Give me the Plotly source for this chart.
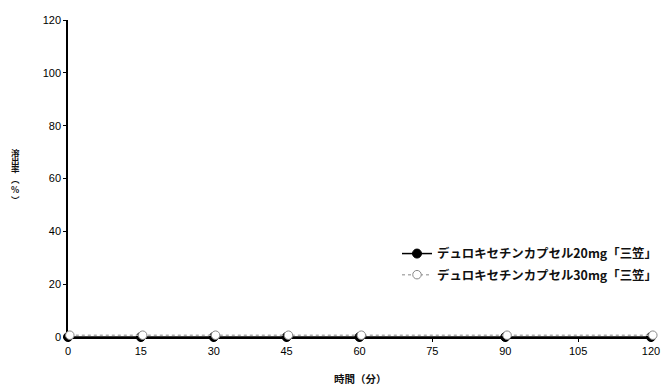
import plotly.graph_objects as go

# Dissolution test results (time in minutes, dissolution rate in %)
times = [0, 15, 30, 45, 60, 90, 120]
rate_20mg = [0, 0, 0, 0, 0, 0, 0]
rate_30mg = [0, 0, 0, 0, 0, 0, 0]
name_20mg = "デュロキセチンカプセル20mg「三笠」"
name_30mg = "デュロキセチンカプセル30mg「三笠」"
x_ticks = [0, 15, 30, 45, 60, 75, 90, 105, 120]
y_ticks = [0, 20, 40, 60, 80, 100, 120]
y_title_chars = ["溶", "出", "率", "︵", "%", "︶"]
y_title_pos = [152, 160, 168, 179, 189, 199]  # px from top, one per character

FONT = "Noto Sans CJK JP"
TICK_FONT = "Liberation Sans"

# Page geometry (px)
W, H = 664, 387
ML, MR, MT, MB = 60, 0, 12, 42
AX_L, AX_R, AX_T, AX_B = 68, 651, 20, 337  # visible axes box
area_w = W - ML - MR
area_h = H - MT - MB
ux = 120 / (AX_R - AX_L)  # data units per pixel
uy = 120 / (AX_B - AX_T)

# open markers drawn a couple of pixels up and to the right of the filled ones
SHIFT = 1.8
x_rng_open = [-(AX_L - ML) * ux - SHIFT * ux, 120 + (W - MR - AX_R) * ux - SHIFT * ux]
y_rng_open = [-(H - MB - AX_B) * uy - SHIFT * uy, 120 + (AX_T - MT) * uy - SHIFT * uy]


def py(px_from_top):
    return (H - MB - px_from_top) / area_h


def px(px_from_left):
    return (px_from_left - ML) / area_w


fig = go.Figure()
fig.add_trace(go.Scatter(
    x=times, y=rate_20mg, name=name_20mg, mode="lines+markers", legendgroup="a",
    line=dict(color="black", width=1.5),
    marker=dict(symbol="circle", size=9, color="black", line=dict(color="black", width=1)),
    cliponaxis=False,
))
fig.add_trace(go.Scatter(
    x=times, y=rate_30mg, name=name_30mg, mode="lines+markers", legendgroup="b",
    xaxis="x2", yaxis="y2",
    line=dict(color="#b0b0b0", width=1.5, dash="dot"),
    marker=dict(symbol="circle", size=8.5, color="white", line=dict(color="#888888", width=1)),
    cliponaxis=False,
))

hidden = dict(visible=False, showgrid=False, zeroline=False)
visible_common = dict(
    showgrid=False, zeroline=False, showline=True, linecolor="black", linewidth=1.5,
    ticks="outside", ticklen=3, tickwidth=1, tickcolor="black", automargin=False,
    tickfont=dict(family=TICK_FONT, size=11, color="black"),
)

fig.update_layout(
    width=W, height=H,
    margin=dict(l=ML, r=MR, t=MT, b=MB),
    paper_bgcolor="white", plot_bgcolor="rgba(0,0,0,0)",
    xaxis=dict(range=[0, 120], tickvals=x_ticks, anchor="y",
               domain=[px(AX_L), px(AX_R)], **visible_common),
    yaxis=dict(range=[0, 120], tickvals=y_ticks, anchor="x",
               domain=[py(AX_B), py(AX_T)], **visible_common),
    xaxis2=dict(range=x_rng_open, domain=[0, 1], anchor="y2", **hidden),
    yaxis2=dict(range=y_rng_open, domain=[0, 1], anchor="x2", **hidden),
    legend=dict(
        x=px(662), y=py(239), xanchor="right", yanchor="top",
        bgcolor="rgba(0,0,0,0)", font=dict(family=FONT, size=12.4, color="#111111", weight="bold"),
        itemwidth=30, tracegroupgap=2,
    ),
    showlegend=True,
    font=dict(family=FONT, color="#111111"),
)

fig.add_annotation(
    text="<b>時間（分）</b>", xref="paper", yref="paper", x=px(360), y=py(378),
    xanchor="center", yanchor="middle", showarrow=False,
    font=dict(family=FONT, size=10.5, color="#111111"),
)
# vertical y-axis title, one character per line
for ch, pos in zip(y_title_chars, y_title_pos):
    fig.add_annotation(
        text="<b>" + ch + "</b>", xref="paper", yref="paper", x=px(15), y=py(pos),
        xanchor="center", yanchor="middle", showarrow=False,
        font=dict(family=FONT, size=8.5, color="#111111"),
    )

fig.write_html("out.html")
